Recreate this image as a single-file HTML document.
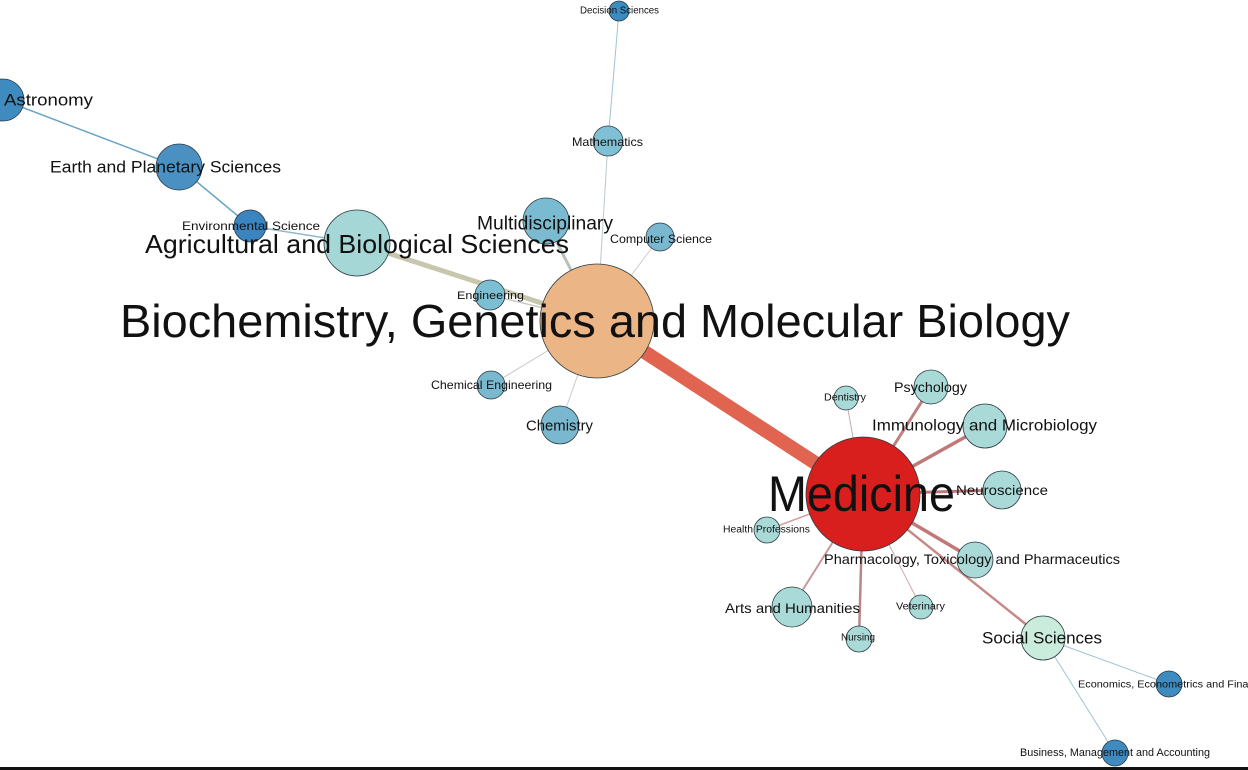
<!DOCTYPE html>
<html><head><meta charset="utf-8"><style>
html,body{margin:0;padding:0;background:#fff;width:1248px;height:770px;overflow:hidden}
svg{display:block}
text{font-family:"Liberation Sans",sans-serif;fill:#111;dominant-baseline:central}
circle{stroke:#2a3a40;stroke-width:0.8}
</style></head><body>
<svg width="1248" height="770" viewBox="0 0 1248 770">
<g fill="none" stroke-linecap="round">
<line x1="3" y1="100" x2="179" y2="167" stroke="#6aa6c6" stroke-width="1.5"/>
<line x1="179" y1="167" x2="250" y2="226" stroke="#6aa6c6" stroke-width="1.5"/>
<line x1="250" y1="226" x2="357" y2="243" stroke="#8fb8c8" stroke-width="1.5"/>
<line x1="357" y1="243" x2="597" y2="321" stroke="#c9c6ae" stroke-width="5"/>
<line x1="619" y1="11" x2="608" y2="141" stroke="#9cc4d4" stroke-width="1"/>
<line x1="608" y1="141" x2="597" y2="321" stroke="#b8c8cc" stroke-width="1"/>
<line x1="546" y1="221" x2="597" y2="321" stroke="#b8c0b8" stroke-width="3"/>
<line x1="660" y1="237" x2="597" y2="321" stroke="#c8d0d0" stroke-width="1"/>
<line x1="490" y1="295" x2="597" y2="321" stroke="#c8c8c0" stroke-width="1.5"/>
<line x1="491" y1="385" x2="597" y2="321" stroke="#c8cccc" stroke-width="1"/>
<line x1="560" y1="425" x2="597" y2="321" stroke="#c8cccc" stroke-width="1"/>
<line x1="597" y1="321" x2="863" y2="494" stroke="#e06450" stroke-width="14"/>
<line x1="846" y1="398" x2="863" y2="494" stroke="#c8a8a8" stroke-width="1"/>
<line x1="931" y1="387" x2="863" y2="494" stroke="#c08080" stroke-width="3"/>
<line x1="985" y1="426" x2="863" y2="494" stroke="#c07878" stroke-width="3.5"/>
<line x1="1002" y1="490" x2="863" y2="494" stroke="#c07878" stroke-width="3"/>
<line x1="767" y1="530" x2="863" y2="494" stroke="#d0a0a0" stroke-width="1.5"/>
<line x1="975" y1="560" x2="863" y2="494" stroke="#c07878" stroke-width="3.5"/>
<line x1="792" y1="607" x2="863" y2="494" stroke="#c89898" stroke-width="2"/>
<line x1="921" y1="607" x2="863" y2="494" stroke="#d0a8a8" stroke-width="1"/>
<line x1="859" y1="639" x2="863" y2="494" stroke="#b88888" stroke-width="2.5"/>
<line x1="1043" y1="638" x2="863" y2="494" stroke="#c88888" stroke-width="2.5"/>
<line x1="1043" y1="638" x2="1169" y2="684" stroke="#9cc4d0" stroke-width="1"/>
<line x1="1043" y1="638" x2="1115" y2="753" stroke="#9cc4d0" stroke-width="1"/>
</g>
<circle cx="619" cy="11" r="10" fill="#3d8cc0"/>
<circle cx="608" cy="141" r="15" fill="#80c0d4"/>
<circle cx="3" cy="100" r="21" fill="#3f8bc0"/>
<circle cx="179" cy="167" r="23" fill="#4a90c2"/>
<circle cx="250" cy="226" r="16" fill="#3a85bf"/>
<circle cx="357" cy="243" r="33" fill="#a4d7d6"/>
<circle cx="546" cy="221" r="23" fill="#7bbbd1"/>
<circle cx="660" cy="237" r="14" fill="#7ab8d0"/>
<circle cx="490" cy="295" r="15" fill="#7cbfd3"/>
<circle cx="597" cy="321" r="57" fill="#ebb585"/>
<circle cx="491" cy="385" r="14" fill="#7ab8d0"/>
<circle cx="560" cy="425" r="19" fill="#7ab8d0"/>
<circle cx="863" cy="494" r="57" fill="#d91e1e"/>
<circle cx="846" cy="398" r="12" fill="#a9dad7"/>
<circle cx="931" cy="387" r="17" fill="#a9dad7"/>
<circle cx="985" cy="426" r="22" fill="#a9dad7"/>
<circle cx="1002" cy="490" r="19" fill="#a9dad7"/>
<circle cx="767" cy="530" r="13" fill="#a9dad7"/>
<circle cx="975" cy="560" r="18" fill="#a9dad7"/>
<circle cx="792" cy="607" r="20" fill="#a9dad7"/>
<circle cx="921" cy="607" r="12" fill="#a9dad7"/>
<circle cx="859" cy="639" r="13" fill="#a9dad7"/>
<circle cx="1043" cy="638" r="22" fill="#c9ecdc"/>
<circle cx="1169" cy="684" r="13" fill="#3f8bc0"/>
<circle cx="1115" cy="753" r="13" fill="#3f8bc0"/>

<text x="580" y="11" font-size="10" textLength="79" lengthAdjust="spacingAndGlyphs">Decision Sciences</text>
<text x="4" y="100" font-size="17" textLength="89" lengthAdjust="spacingAndGlyphs">Astronomy</text>
<text x="50" y="167" font-size="17" textLength="231" lengthAdjust="spacingAndGlyphs">Earth and Planetary Sciences</text>
<text x="572" y="142" font-size="12" textLength="71" lengthAdjust="spacingAndGlyphs">Mathematics</text>
<text x="182" y="226" font-size="12" textLength="138" lengthAdjust="spacingAndGlyphs">Environmental Science</text>
<text x="477" y="224" font-size="19" textLength="136" lengthAdjust="spacingAndGlyphs">Multidisciplinary</text>
<text x="145" y="244" font-size="26" textLength="424" lengthAdjust="spacingAndGlyphs">Agricultural and Biological Sciences</text>
<text x="610" y="239" font-size="12" textLength="102" lengthAdjust="spacingAndGlyphs">Computer Science</text>
<text x="457" y="296" font-size="11" textLength="67" lengthAdjust="spacingAndGlyphs">Engineering</text>
<text x="120" y="321" font-size="46" textLength="950" lengthAdjust="spacingAndGlyphs">Biochemistry, Genetics and Molecular Biology</text>
<text x="431" y="385" font-size="12" textLength="121" lengthAdjust="spacingAndGlyphs">Chemical Engineering</text>
<text x="526" y="426" font-size="15" textLength="67" lengthAdjust="spacingAndGlyphs">Chemistry</text>
<text x="824" y="398" font-size="10" textLength="42" lengthAdjust="spacingAndGlyphs">Dentistry</text>
<text x="894" y="387" font-size="14" textLength="73" lengthAdjust="spacingAndGlyphs">Psychology</text>
<text x="872" y="426" font-size="16" textLength="225" lengthAdjust="spacingAndGlyphs">Immunology and Microbiology</text>
<text x="768" y="494" font-size="50" textLength="187" lengthAdjust="spacingAndGlyphs">Medicine</text>
<text x="956" y="490" font-size="14" textLength="92" lengthAdjust="spacingAndGlyphs">Neuroscience</text>
<text x="723" y="530" font-size="10" textLength="87" lengthAdjust="spacingAndGlyphs">Health Professions</text>
<text x="824" y="559" font-size="14" textLength="296" lengthAdjust="spacingAndGlyphs">Pharmacology, Toxicology and Pharmaceutics</text>
<text x="725" y="608" font-size="14" textLength="135" lengthAdjust="spacingAndGlyphs">Arts and Humanities</text>
<text x="896" y="607" font-size="10" textLength="49" lengthAdjust="spacingAndGlyphs">Veterinary</text>
<text x="841" y="638" font-size="10" textLength="34" lengthAdjust="spacingAndGlyphs">Nursing</text>
<text x="982" y="638" font-size="17" textLength="120" lengthAdjust="spacingAndGlyphs">Social Sciences</text>
<text x="1078" y="685" font-size="10" textLength="188" lengthAdjust="spacingAndGlyphs">Economics, Econometrics and Finance</text>
<text x="1020" y="753" font-size="11" textLength="190" lengthAdjust="spacingAndGlyphs">Business, Management and Accounting</text>
<rect x="0" y="767" width="1248" height="3" fill="#111"/>
</svg>
</body></html>
